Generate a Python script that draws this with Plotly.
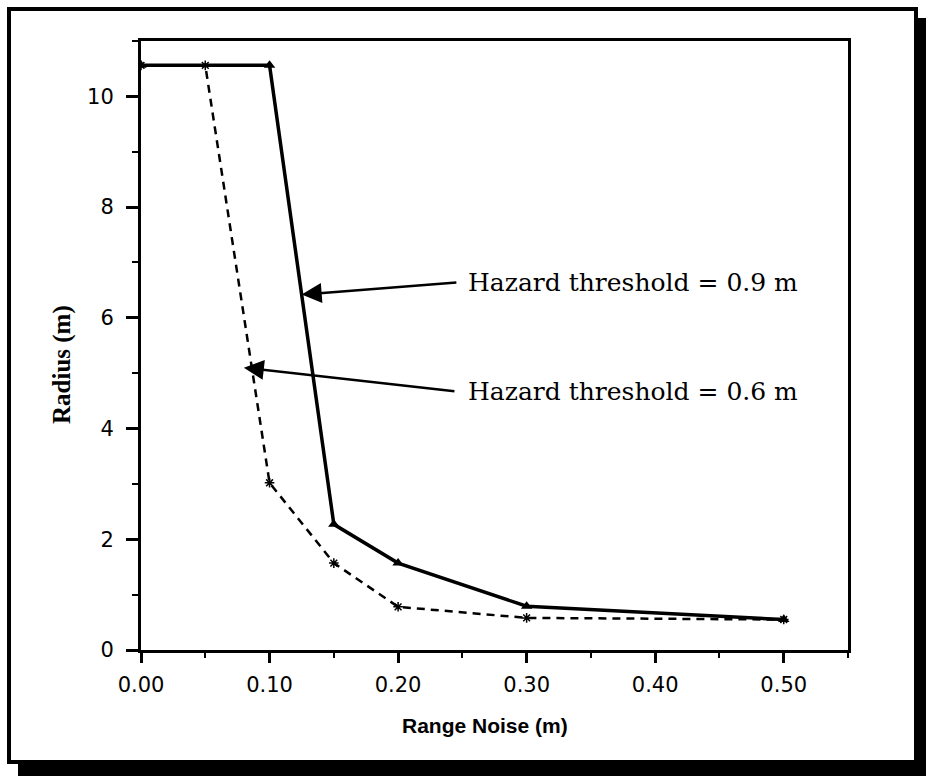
import plotly.graph_objects as go

# Data
noise_09 = [0.0, 0.10, 0.15, 0.20, 0.30, 0.50]
radius_09 = [10.56, 10.56, 2.27, 1.57, 0.79, 0.55]

noise_06 = [0.0, 0.05, 0.10, 0.15, 0.20, 0.30, 0.50]
radius_06 = [10.56, 10.56, 3.02, 1.57, 0.78, 0.58, 0.55]

x_tickvals = [0.0, 0.1, 0.2, 0.3, 0.4, 0.5]
x_ticktext = ["0.00", "0.10", "0.20", "0.30", "0.40", "0.50"]
y_tickvals = [0, 2, 4, 6, 8, 10]
y_ticktext = ["0", "2", "4", "6", "8", "10"]

label_09 = "Hazard threshold = 0.9 m"
label_06 = "Hazard threshold = 0.6 m"

W, H = 926, 776
L, R, T, B = 141, 78, 41, 126
pw, ph = W - L - R, H - T - B


def px(xp):
    return (xp - L) / pw


def py(yp):
    return (H - B - yp) / ph


fig = go.Figure()

fig.add_trace(go.Scatter(
    x=noise_06, y=radius_06, mode="lines+markers",
    line=dict(color="black", width=2.5, dash="8px,6px"),
    marker=dict(symbol="asterisk-open", size=8, color="black",
                line=dict(color="black", width=1.5)),
    showlegend=False, name="Hazard threshold = 0.6 m"))

fig.add_trace(go.Scatter(
    x=noise_09, y=radius_09, mode="lines+markers",
    line=dict(color="black", width=3.5),
    marker=dict(symbol="triangle-up", size=10, color="black"),
    showlegend=False, name="Hazard threshold = 0.9 m"))

# arrows
fig.add_annotation(x=0.125, y=6.42, ax=0.2465, ay=6.64, axref="x", ayref="y",
                   xref="x", yref="y", text="", showarrow=True,
                   arrowhead=2, arrowsize=1.6, arrowwidth=2.5, arrowcolor="black")
fig.add_annotation(x=0.080, y=5.10, ax=0.245, ay=4.67, axref="x", ayref="y",
                   xref="x", yref="y", text="", showarrow=True,
                   arrowhead=2, arrowsize=1.6, arrowwidth=2.5, arrowcolor="black")

# labels
label_font = dict(family="DejaVu Serif", size=25, color="black")
fig.add_annotation(x=0.253, y=6.64, xref="x", yref="y", text=label_09,
                   showarrow=False, xanchor="left", yanchor="middle",
                   font=label_font)
fig.add_annotation(x=0.253, y=4.67, xref="x", yref="y", text=label_06,
                   showarrow=False, xanchor="left", yanchor="middle",
                   font=label_font)

# axis titles
fig.add_annotation(x=px(485), y=py(725), xref="paper", yref="paper",
                   xanchor="center", yanchor="middle",
                   text="<b>Range Noise (m)</b>", showarrow=False,
                   font=dict(family="Liberation Sans", size=21, color="black"))
fig.add_annotation(x=px(62), y=py(365), xref="paper", yref="paper",
                   xanchor="center", yanchor="middle",
                   text="<b>Radius (m)</b>", showarrow=False, textangle=-90,
                   font=dict(family="Liberation Serif", size=25, color="black"))

# outer frame with shadow
fig.add_shape(type="rect", xref="paper", yref="paper", layer="below",
              x0=px(18), x1=px(926), y0=py(776), y1=py(18),
              fillcolor="black", line=dict(width=0))
fig.add_shape(type="rect", xref="paper", yref="paper", layer="below",
              x0=px(9), x1=px(916), y0=py(762), y1=py(9),
              fillcolor="white", line=dict(color="black", width=4))

axis_font = dict(family="DejaVu Sans", size=21, color="black")
fig.update_xaxes(range=[0, 0.55], tickvals=x_tickvals, ticktext=x_ticktext,
                 showgrid=False, zeroline=False, showline=True, mirror=True,
                 linecolor="black", linewidth=3, ticks="outside", ticklen=10,
                 tickwidth=2.5, tickcolor="black", tickfont=axis_font,
                 ticklabelstandoff=4,
                 minor=dict(dtick=0.05, ticks="outside", ticklen=5, tickwidth=2,
                            tickcolor="black", showgrid=False))
fig.update_yaxes(range=[0, 11], tickvals=y_tickvals, ticktext=y_ticktext,
                 showgrid=False, zeroline=False, showline=True, mirror=True,
                 linecolor="black", linewidth=3, ticks="outside", ticklen=12,
                 tickwidth=2.5, tickcolor="black", tickfont=axis_font,
                 ticklabelstandoff=8,
                 minor=dict(dtick=1, ticks="outside", ticklen=6, tickwidth=2,
                            tickcolor="black", showgrid=False))

fig.update_layout(width=W, height=H, margin=dict(l=L, r=R, t=T, b=B),
                  paper_bgcolor="white", plot_bgcolor="white", showlegend=False)

fig.write_html("out.html")
